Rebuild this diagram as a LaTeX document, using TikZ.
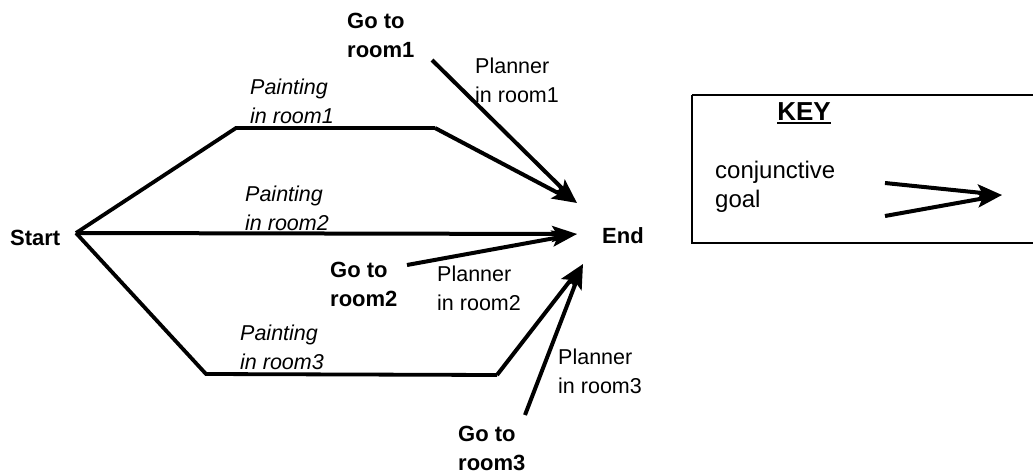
\documentclass[tikz,border=0pt]{standalone}
\usepackage{fontspec}
\setmainfont{Liberation Sans}
\usetikzlibrary{arrows.meta}
\begin{document}
\begin{tikzpicture}[x=1pt,y=-1pt,
  txt/.style={inner sep=0pt,align=left,font=\fontsize{21.5}{29}\selectfont},
  act/.style={txt,font=\fontsize{21.5}{29}\selectfont\itshape},
  goal/.style={txt,font=\fontsize{22}{29}\selectfont\bfseries},
  keytxt/.style={inner sep=0pt,align=left,font=\fontsize{24}{29}\selectfont},
  path/.style={line width=3.8pt,line join=miter},
  arr/.style={line width=4pt,-{Stealth[length=25pt,width=16pt,inset=5pt]}}]
\useasboundingbox (0,0) rectangle (1033,474);
\clip (0,0) rectangle (1033,474);

% junction points
\coordinate (s) at (76,233);
\coordinate (e1) at (577,203);
\coordinate (e2) at (577,234);
\coordinate (e3) at (583,264);
\coordinate (b1) at (236,128);
\coordinate (c1) at (435,128);
\coordinate (b3) at (206,374);
\coordinate (c3) at (497,375);
\coordinate (g1) at (432,60);
\coordinate (g2) at (407,265);
\coordinate (g3) at (525,415);

% labels
\node[goal,anchor=west] (start) at (10,238) {Start};
\node[goal,anchor=west] (end) at (602,236) {End};
\node[goal,anchor=west] (go1) at (347,35) {Go to\\room1};
\node[goal,anchor=west] (go2) at (330,284) {Go to\\room2};
\node[goal,anchor=west] (go3) at (458,448) {Go to\\room3};
\node[act,anchor=west] (p1) at (250,101) {Painting\\in room1};
\node[act,anchor=west] (p2) at (245,208) {Painting\\in room2};
\node[act,anchor=west] (p3) at (240,347) {Painting\\in room3};
\node[txt,anchor=west] (pl1) at (475,80) {Planner\\in room1};
\node[txt,anchor=west] (pl2) at (437,288) {Planner\\in room2};
\node[txt,anchor=west] (pl3) at (558,371) {Planner\\in room3};

% painting routes
\draw[path] (s) -- (b1) -- (c1);
\draw[arr] (c1) -- (e1);
\draw[arr] (s) -- (e2);
\draw[path] (s) -- (b3) -- (c3);
\draw[arr] (c3) -- (e3);

% planner moves
\draw[arr] (g1) -- (e1);
\draw[arr] (g2) -- (e2);
\draw[arr] (g3) -- (e3);

% key
\draw[line width=2.4pt] (692,95) -- (1040,95);
\draw[line width=2.4pt] (692,95) -- (692,243) -- (1040,243);
\node[inner sep=0pt,font=\fontsize{26}{29}\selectfont\bfseries] (key) at (804,112) {KEY};
\draw[line width=1.8pt] (key.south west) ++(0,2) coordinate (u1) -- (key.south east |- u1);
\node[keytxt,anchor=west] (conj) at (715,187) {conjunctive\\goal};
\coordinate (k1) at (885,183);
\coordinate (k2) at (885,216);
\coordinate (kt) at (1002,195);
\draw[arr] (k1) -- (kt);
\draw[arr] (k2) -- (kt);
\end{tikzpicture}
\end{document}
